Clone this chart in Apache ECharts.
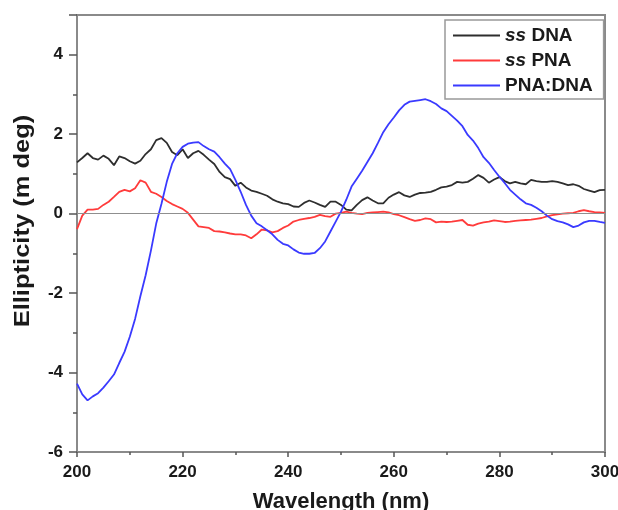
<!DOCTYPE html>
<html><head><meta charset="utf-8">
<script src="https://cdn.jsdelivr.net/npm/echarts@6/dist/echarts.min.js"></script>
<style>html,body{margin:0;padding:0;background:#fff}#c{width:618px;height:510px}</style>
</head><body><div id="c"></div>
<script>
const wavelength = [200,201,202,203,204,205,206,207,208,209,210,211,212,213,214,215,216,217,218,219,220,221,222,223,224,225,226,227,228,229,230,231,232,233,234,235,236,237,238,239,240,241,242,243,244,245,246,247,248,249,250,251,252,253,254,255,256,257,258,259,260,261,262,263,264,265,266,267,268,269,270,271,272,273,274,275,276,277,278,279,280,281,282,283,284,285,286,287,288,289,290,291,292,293,294,295,296,297,298,299,300];
const ssDNA = [1.29,1.40,1.52,1.40,1.36,1.46,1.38,1.22,1.44,1.40,1.32,1.26,1.33,1.50,1.62,1.85,1.90,1.78,1.55,1.47,1.62,1.40,1.52,1.58,1.48,1.36,1.25,1.05,0.92,0.87,0.70,0.78,0.66,0.58,0.55,0.50,0.45,0.36,0.30,0.26,0.24,0.18,0.17,0.27,0.33,0.28,0.22,0.17,0.30,0.30,0.22,0.10,0.08,0.22,0.34,0.41,0.33,0.26,0.26,0.40,0.48,0.54,0.46,0.42,0.48,0.52,0.53,0.55,0.60,0.66,0.68,0.72,0.80,0.78,0.80,0.88,0.97,0.90,0.78,0.86,0.92,0.82,0.76,0.80,0.76,0.74,0.85,0.82,0.80,0.80,0.82,0.80,0.76,0.72,0.74,0.70,0.62,0.58,0.54,0.59,0.60];
const ssPNA = [-0.39,-0.05,0.10,0.10,0.12,0.22,0.30,0.42,0.55,0.60,0.56,0.64,0.84,0.78,0.55,0.50,0.42,0.32,0.24,0.18,0.12,0.02,-0.15,-0.32,-0.34,-0.36,-0.44,-0.45,-0.47,-0.50,-0.52,-0.52,-0.55,-0.62,-0.52,-0.40,-0.42,-0.47,-0.44,-0.36,-0.30,-0.20,-0.16,-0.13,-0.11,-0.08,-0.03,-0.06,-0.08,0.00,0.02,0.05,0.02,0.00,-0.01,0.02,0.03,0.04,0.05,0.03,-0.01,-0.04,-0.09,-0.14,-0.18,-0.16,-0.12,-0.14,-0.22,-0.20,-0.21,-0.20,-0.18,-0.16,-0.28,-0.30,-0.25,-0.22,-0.20,-0.17,-0.19,-0.21,-0.20,-0.18,-0.17,-0.16,-0.15,-0.13,-0.11,-0.07,-0.04,-0.02,0.00,0.01,0.02,0.06,0.09,0.06,0.04,0.03,0.02];
const pnaDNA = [-4.28,-4.55,-4.70,-4.60,-4.52,-4.38,-4.22,-4.05,-3.76,-3.48,-3.10,-2.65,-2.08,-1.55,-0.93,-0.25,0.25,0.80,1.25,1.52,1.68,1.76,1.79,1.80,1.70,1.62,1.56,1.42,1.26,1.12,0.85,0.55,0.22,-0.05,-0.24,-0.32,-0.42,-0.52,-0.66,-0.76,-0.80,-0.90,-0.98,-1.01,-1.01,-0.99,-0.87,-0.70,-0.45,-0.20,0.05,0.35,0.68,0.88,1.08,1.30,1.52,1.78,2.05,2.25,2.42,2.60,2.74,2.82,2.84,2.86,2.88,2.83,2.76,2.65,2.58,2.46,2.34,2.20,1.98,1.84,1.65,1.42,1.28,1.10,0.93,0.77,0.60,0.48,0.36,0.26,0.22,0.15,0.06,-0.05,-0.14,-0.19,-0.22,-0.27,-0.34,-0.30,-0.22,-0.18,-0.18,-0.21,-0.23];
const seriesNames = ['ss DNA','ss PNA','PNA:DNA'];
const xTitle = 'Wavelength (nm)';
const yTitle = 'Ellipticity (m deg)';

const pair = arr => wavelength.map((w,i)=>[w,arr[i]]);
const font = 'Liberation Sans, Arial, sans-serif';
const axisCol = '#8a8a8a';
const txt = '#1a1a1a';
const chart = echarts.init(document.getElementById('c'), null, {renderer:'canvas'});
const lineSeries = (name, data, color) => ({
  name, type:'line', data: pair(data), showSymbol:false, symbol:'none', smooth:false,
  lineStyle:{color, width:1.8}, itemStyle:{color}, animation:false, z:3
});
const s0 = lineSeries(seriesNames[0], ssDNA, '#2e2e2e');
s0.markLine = {silent:true, symbol:'none', label:{show:false}, animation:false,
  lineStyle:{color:'#8f8f8f', width:1.2, type:'solid'}, data:[{yAxis:0}]};
chart.setOption({
  backgroundColor:'#fff',
  animation:false,
  grid:{left:77, right:13, top:15, bottom:58, containLabel:false, outerBoundsMode:'none',
    show:true, borderColor:axisCol, borderWidth:2, backgroundColor:'transparent'},
  graphic:[{
    type:'text', x:23, y:221, rotation:Math.PI/2, scaleX:1.16, silent:true,
    style:{text:yTitle, font:'bold 22px "Liberation Sans", Arial, sans-serif', fill:txt,
      textAlign:'center', textVerticalAlign:'middle'}
  }],
  legend:{
    orient:'vertical', left:445, top:20, icon:'rect', itemWidth:47, itemHeight:2, itemGap:6,
    padding:[6,11,4,8], borderColor:'#999', borderWidth:1.5, backgroundColor:'#fff',
    textStyle:{fontFamily:font, fontSize:19, fontWeight:'bold', color:txt,
      rich:{i:{fontFamily:font, fontSize:19, fontWeight:'bold', fontStyle:'italic', color:txt},
            b:{fontFamily:font, fontSize:19, fontWeight:'bold', color:txt}}},
    formatter: n => n.startsWith('ss ') ? '{i|ss} {b|' + n.slice(3) + '}' : '{b|' + n + '}',
    data: seriesNames
  },
  xAxis:{
    type:'value', min:200, max:300, interval:20,
    name:xTitle, nameLocation:'middle', nameGap:39,
    nameTextStyle:{fontFamily:font, fontSize:22, fontWeight:'bold', color:txt},
    axisLine:{show:true, onZero:false, lineStyle:{color:axisCol, width:2}},
    axisTick:{show:true, inside:false, length:5, lineStyle:{color:'#555', width:1.5}},
    minorTick:{show:true, splitNumber:2, length:3, lineStyle:{color:'#555', width:1.5}},
    splitLine:{show:false},
    axisLabel:{fontFamily:font, fontSize:17, fontWeight:'bold', color:txt, margin:12}
  },
  yAxis:{
    type:'value', min:-6, max:5, interval:2,
    axisLine:{show:true, onZero:false, lineStyle:{color:axisCol, width:2}},
    axisTick:{show:true, inside:false, length:8, lineStyle:{color:'#555', width:1.5}},
    minorTick:{show:true, splitNumber:2, length:4, lineStyle:{color:'#555', width:1.5}},
    splitLine:{show:false},
    axisLabel:{fontFamily:font, fontSize:17, fontWeight:'bold', color:txt, margin:14,
      formatter: v => (v % 2 === 0) ? String(v) : ''}
  },
  series:[
    s0,
    lineSeries(seriesNames[1], ssPNA, '#ff3b3b'),
    lineSeries(seriesNames[2], pnaDNA, '#3a3aff')
  ]
});
</script>
</body></html>
